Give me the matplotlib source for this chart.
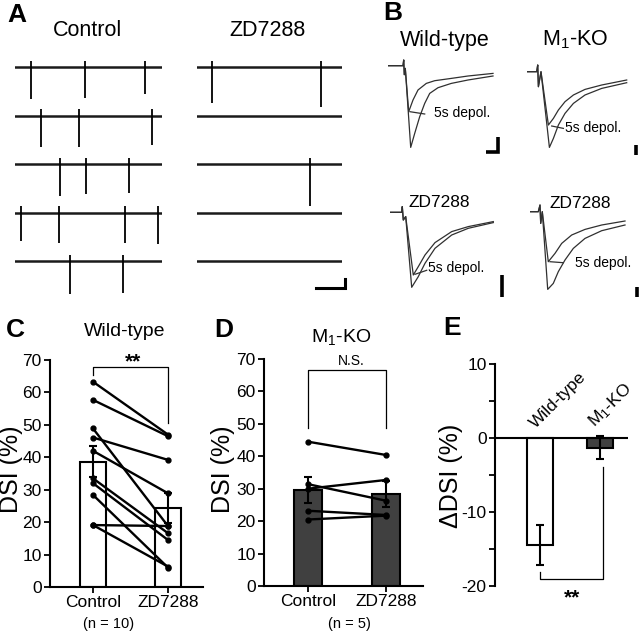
import matplotlib
matplotlib.use("Agg")
import matplotlib.pyplot as plt
import numpy as np

plt.rcParams['font.family'] = ['Liberation Sans', 'DejaVu Sans']
plt.rcParams['mathtext.fontset'] = 'custom'
plt.rcParams['mathtext.rm'] = 'Liberation Sans'
plt.rcParams['mathtext.it'] = 'Liberation Sans'
plt.rcParams['axes.unicode_minus'] = False

# ---------------- data ----------------
# Panel A: spike times (s) and spike depths per sweep
ctrl_spike_times = [[1.09, 4.76, 8.84], [1.77, 4.35, 9.32], [3.06, 4.83, 7.76],
                    [0.41, 2.99, 7.48, 9.73], [3.74, 7.35]]
ctrl_spike_depth = [[32, 31, 27], [31, 31, 29], [32, 30, 29], [28, 30, 30, 31], [33, 32]]
zd_spike_times = [[1.03, 8.55], [], [7.79], [], []]
zd_spike_depth = [[36, 40], [], [42], [], []]

# Panel B: sampled current traces (time ms, current a.u.)
wt_t_ctrl = [0, 15, 15.7, 16.3, 17.3, 22.7, 26.7, 31.7, 36.7, 41.7, 50, 63.3, 80, 105]
wt_v_ctrl = [0, 0, 5.7, -9, -2.7, -81.7, -67.7, -51, -37.7, -27.7, -22, -17.7, -14.3, -10.3]
wt_t_dep = [0, 15, 15.7, 16.3, 17.3, 20.7, 25, 30, 38.3, 46.7, 63.3, 80, 105]
wt_v_dep = [0, 0, 5.7, -9, -2.7, -46, -34.3, -24.3, -17.7, -15, -12.7, -10.3, -7.7]

m1_t_ctrl = [0, 10, 11, 11.7, 14.3, 22.7, 26.7, 31.7, 38.3, 46.7, 58.3, 75, 100]
m1_v_ctrl = [0, 0, 6.7, -15, 0, -75.7, -66.7, -53.3, -41.7, -31.7, -23.3, -16.7, -11]
m1_t_dep = [0, 10, 11, 11.7, 14.3, 21.7, 26.7, 31.7, 38.3, 46.7, 58.3, 75, 100]
m1_v_dep = [0, 0, 6.7, -15, 0, -53.3, -46.7, -38.3, -30, -23.3, -17.7, -13.3, -8.3]

zw_t_ctrl = [0, 11.7, 12.3, 13.3, 15.7, 21.7, 28.3, 35, 45, 61.7, 78.3, 103.3]
zw_v_ctrl = [0, 0, 5.7, -7.7, -4.3, -75, -64.3, -51, -36, -22.7, -16, -10.3]
zw_t_dep = [0, 11.7, 12.3, 13.3, 15.7, 23.3, 28.3, 35, 45, 61.7, 78.3, 103.3]
zw_v_dep = [0, 0, 5.7, -7.7, -4.3, -62.7, -54.3, -42.7, -30.3, -19.3, -14.3, -9.3]

zm_t_ctrl = [0, 8.3, 10, 10.7, 12.3, 17.7, 23.3, 28.3, 35, 43.3, 55, 71.7, 95]
zm_v_ctrl = [0, 0, 6.7, -11.7, 0, -77.7, -71.7, -60, -48.3, -36.7, -26.7, -19, -13.3]
zm_t_dep = [0, 8.3, 10, 10.7, 12.3, 18.3, 25, 31.7, 41.7, 55, 71.7, 95]
zm_v_dep = [0, 0, 6.7, -11.7, 0, -50, -41.7, -31.7, -23.3, -17.7, -13.3, -9.3]

# Panel C: wild-type DSI (%)
groups = ['Control', 'ZD7288']
wt_ctrl = [63.3, 57.7, 48.9, 46.1, 42.0, 33.5, 32.0, 28.4, 19.1, 19.1]
wt_zd = [47.0, 46.5, 18.8, 39.2, 28.9, 16.6, 14.5, 6.0, 18.8, 6.3]
wt_mean = [38.7, 24.3]
wt_sem = [4.8, 4.6]

# Panel D: M1-KO DSI (%)
ko_ctrl = [44.5, 31.4, 30.0, 23.2, 20.5]
ko_zd = [40.4, 26.3, 32.7, 21.9, 21.7]
ko_mean = [29.6, 28.3]
ko_sem = [4.0, 4.0]

# Panel E: delta DSI (%)
e_labels = ['Wild-type', 'M$_\\mathregular{1}$-KO']
e_mean = [-14.5, -1.3]
e_sem = [2.7, 1.55]

DARK = '#404040'
W, H = 640, 635
fig = plt.figure(figsize=(6.4, 6.35), dpi=100)


def px_axes(l, t, r, b):
    return fig.add_axes([l / W, 1 - b / H, (r - l) / W, (b - t) / H])


def ftext(x, y, s, **kw):
    fig.text(x / W, 1 - y / H, s, **kw)


# ---------------- Panel A ----------------
row_gap = 48.5
for (l, r, times, depths) in [(15, 162, ctrl_spike_times, ctrl_spike_depth),
                               (197, 342, zd_spike_times, zd_spike_depth)]:
    ax = px_axes(l, 67 - 15, r, 67 + 4 * row_gap + 45)
    ax.set_xlim(0, 10)
    ax.set_ylim(-(4 * row_gap + 45), 15)
    ax.axis('off')
    for i in range(5):
        base = -i * row_gap
        ax.plot([0, 10], [base, base], color='#1a1a1a', lw=1.8)
        if times[i]:
            ax.vlines(times[i], [base - d for d in depths[i]], base + 6.5,
                      color='black', lw=1.3)
    if l == 197:
        sb_y = -4 * row_gap - 27
        ax.plot([8.2, 10.2, 10.2], [sb_y, sb_y, sb_y + 9], color='black', lw=2.2,
                clip_on=False, solid_joinstyle='miter')

ftext(17, 15, 'A', fontsize=19, fontweight='bold', ha='center', va='center')
ftext(87, 36, 'Control', fontsize=15.5, ha='center', va='baseline')
ftext(267, 36, 'ZD7288', fontsize=15.5, ha='center', va='baseline')

# ---------------- Panel B ----------------
b_specs = [
    (388, 65.7, wt_t_ctrl, wt_v_ctrl, wt_t_dep, wt_v_dep,
     ((22, -46), (36.7, -48.3)), (46, -47.7), [(98.3, -86), (110, -86), (110, -71.7)]),
    (526.7, 71.7, m1_t_ctrl, m1_v_ctrl, m1_t_dep, m1_v_dep,
     ((25, -54.3), (36.7, -56.7)), (38.3, -56.7), [(109.3, -73.3), (109.3, -83.3)]),
    (390, 212.3, zw_t_ctrl, zw_v_ctrl, zw_t_dep, zw_v_dep,
     ((25, -62), (36.7, -58)), (38.3, -56), [(112, -63), (112, -85)]),
    (530, 211.7, zm_t_ctrl, zm_v_ctrl, zm_t_dep, zm_v_dep,
     ((20, -50), (33.3, -51)), (45, -51.7), [(107, -75.3), (107, -85.3)]),
]
for (x0, yb, tc, vc, td, vd, ptr, txt, sb) in b_specs:
    ax = px_axes(x0, yb - 10, x0 + 125, yb + 95)
    ax.set_xlim(0, 125)
    ax.set_ylim(-95, 10)
    ax.axis('off')
    ax.plot(tc, vc, color='#303030', lw=0.9)
    ax.plot(td, vd, color='#303030', lw=0.9)
    ax.plot([ptr[0][0], ptr[1][0]], [ptr[0][1], ptr[1][1]], color='#303030', lw=0.9)
    ax.text(txt[0], txt[1], '5s depol.', fontsize=10, ha='left', va='center')
    ax.plot([p[0] for p in sb], [p[1] for p in sb], color='black', lw=2.6,
            clip_on=False, solid_joinstyle='miter', solid_capstyle='butt')

ftext(393, 13, 'B', fontsize=19, fontweight='bold', ha='center', va='center')
ftext(445, 45.7, 'Wild-type', fontsize=15.5, ha='center', va='baseline')
ftext(575, 45.7, 'M$_\\mathregular{1}$-KO', fontsize=15.5, ha='center', va='baseline')
ftext(439, 206.7, 'ZD7288', fontsize=12.5, ha='center', va='baseline')
ftext(580, 208, 'ZD7288', fontsize=12.5, ha='center', va='baseline')


# ---------------- Panels C and D ----------------
def style_axis(ax):
    for s in ['top', 'right']:
        ax.spines[s].set_visible(False)
    for s in ['left', 'bottom']:
        ax.spines[s].set_linewidth(1.5)
    ax.tick_params(direction='out', length=4, width=1.3, labelsize=12.5, pad=2)


def dsi_panel(rect, xl, ctrl, zd, mean, sem, color):
    ax = px_axes(*rect)
    ax.set_xlim(*xl)
    ax.set_ylim(0, 70)
    ax.bar([0, 1], mean, width=0.35, color=color, edgecolor='black', lw=1.5, zorder=1)
    ax.errorbar([0, 1], mean, yerr=sem, fmt='none', ecolor='black', elinewidth=1.5,
                capsize=3.2, capthick=1.5, zorder=2)
    for c, z in zip(ctrl, zd):
        ax.plot([0, 1], [c, z], 'k-', lw=1.7, marker='o', ms=3.5, zorder=3)
    ax.set_yticks(range(0, 71, 10))
    ax.set_xticks([0, 1])
    ax.set_xticklabels(groups, fontsize=13)
    ax.tick_params(axis='x', pad=4)
    style_axis(ax)
    return ax


axC = dsi_panel((50, 360, 203, 587), (-0.573, 1.467), wt_ctrl, wt_zd, wt_mean, wt_sem, 'white')
axC.plot([0, 0, 1, 1], [65.4, 67.8, 67.8, 50.6], color='black', lw=0.9, clip_on=False)
ftext(133, 362, '**', fontsize=15, fontweight='bold', ha='center', va='center')
ftext(15, 330, 'C', fontsize=19, fontweight='bold', ha='center', va='center')
ftext(125, 336, 'Wild-type', fontsize=14, ha='center', va='baseline')
ftext(11, 469, 'DSI (%)', fontsize=18, rotation=90, ha='center', va='center')
ftext(109, 628, '(n = 10)', fontsize=10.5, ha='center', va='baseline')

axD = dsi_panel((264, 359, 423, 586), (-0.564, 1.474), ko_ctrl, ko_zd, ko_mean, ko_sem, DARK)
axD.plot([0, 0, 1, 1], [48.7, 66.6, 66.6, 48.7], color='black', lw=0.9, clip_on=False)
ftext(351, 361, 'N.S.', fontsize=10, ha='center', va='center')
ftext(224, 330, 'D', fontsize=19, fontweight='bold', ha='center', va='center')
ftext(341, 341.7, 'M$_\\mathregular{1}$-KO', fontsize=14, ha='center', va='baseline')
ftext(223, 469, 'DSI (%)', fontsize=18, rotation=90, ha='center', va='center')
ftext(349, 628, '(n = 5)', fontsize=10.5, ha='center', va='baseline')

# ---------------- Panel E ----------------
axE = px_axes(495, 364, 628, 586)
axE.set_xlim(-0.75, 1.467)
axE.set_ylim(-20, 10)
for s in ['top', 'right', 'bottom']:
    axE.spines[s].set_visible(False)
axE.spines['left'].set_linewidth(1.5)
axE.axhline(0, color='black', lw=1.5, zorder=3)
axE.bar([0, 1], e_mean, width=0.43, color=['white', DARK], edgecolor='black', lw=1.5, zorder=1)
axE.errorbar([0, 1], e_mean, yerr=e_sem, fmt='none', ecolor='black', elinewidth=1.5,
             capsize=3.2, capthick=1.5, zorder=4)
axE.set_xticks([])
axE.set_yticks([-20, -10, 0, 10])
axE.set_yticks([-15, -5, 5], minor=True)
axE.tick_params(which='both', direction='out', length=4, width=1.3, labelsize=12.5, pad=2)
for i, lab in enumerate(e_labels):
    axE.text(i - 0.04, 0.9, lab, rotation=45, rotation_mode='anchor', ha='left',
             va='bottom', fontsize=12.5)
axE.plot([0, 0, 1.05, 1.05], [-18.1, -19.0, -19.0, -3.9], color='black', lw=0.9, clip_on=False)
ftext(572, 598, '**', fontsize=15, fontweight='bold', ha='center', va='center')
ftext(452, 328, 'E', fontsize=19, fontweight='bold', ha='center', va='center')
ftext(451, 476, '\u0394DSI (%)', fontsize=18, rotation=90, ha='center', va='center')

fig.savefig('out.png', dpi=100, facecolor='white')
